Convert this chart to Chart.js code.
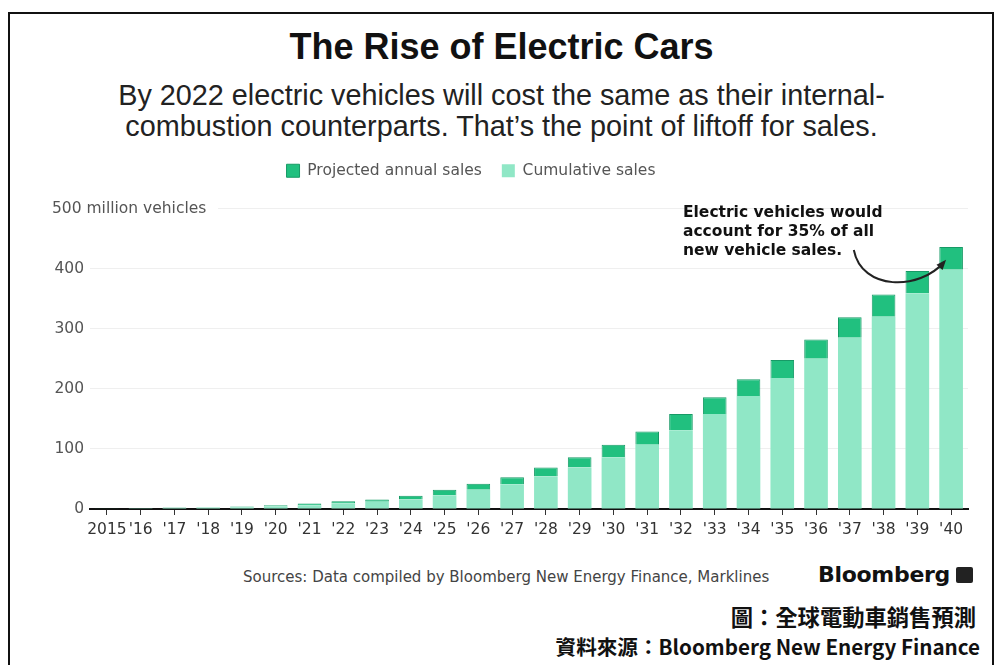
<!DOCTYPE html>
<html>
<head>
<meta charset="utf-8">
<script src="https://cdn.jsdelivr.net/npm/chart.js@4.4.1/dist/chart.umd.min.js"></script>
<style>
  body { margin: 0; background: #fff; width: 1003px; height: 665px; overflow: hidden; position: relative; font-family: "Liberation Sans", Arial, sans-serif; }
  .frame { position: absolute; left: 8px; top: 12px; width: 986px; height: 700px; border: 2px solid #111; box-sizing: border-box; }
  #title { position: absolute; top: 26px; left: 0; width: 1003px; text-align: center; font-weight: bold; font-size: 36px; letter-spacing: 0px; color: #111; }
  #subtitle { position: absolute; top: 80px; left: 0; width: 1003px; text-align: center; font-size: 28.8px; line-height: 31px; color: #222; }
  #chartBox { position: absolute; left: 0; top: 139px; width: 1003px; height: 411px; }
  #sources { position: absolute; left: 243px; top: 568px; font-family: "DejaVu Sans"; font-size: 15px; color: #444; }
  #brand { position: absolute; left: 818px; top: 562px; font-family: "DejaVu Sans"; font-weight: bold; font-size: 22px; letter-spacing: -0.3px; color: #111; }
  #brand i { display: inline-block; width: 17px; height: 16px; background: #222; border-radius: 2px; margin-left: 6px; vertical-align: -1px; }
  .cjk { position: absolute; font-family: "Noto Sans CJK TC"; font-weight: bold; color: #111; white-space: nowrap; }
  #cap1 { top: 600px; right: 27px; font-size: 22.3px; }
  #cap2 { top: 631px; right: 23px; font-size: 20.6px; }
</style>
</head>
<body>
<div class="frame"></div>
<div id="title">The Rise of Electric Cars</div>
<div id="subtitle">By 2022 electric vehicles will cost the same as their internal-<br>combustion counterparts. That’s the point of liftoff for sales.</div>
<div id="chartBox"><canvas id="myChart"></canvas></div>
<div id="sources">Sources: Data compiled by Bloomberg New Energy Finance, Marklines</div>
<div id="brand">Bloomberg<i></i></div>
<div id="cap1" class="cjk">圖：全球電動車銷售預測</div>
<div id="cap2" class="cjk">資料來源：Bloomberg New Energy Finance</div>
<script>
var years = ["2015", "'16", "'17", "'18", "'19", "'20", "'21", "'22", "'23", "'24", "'25", "'26", "'27",
    "'28", "'29", "'30", "'31", "'32", "'33", "'34", "'35", "'36", "'37", "'38", "'39", "'40"];
// million vehicles
var cumulative = [0.8, 1.2, 1.7, 2.3, 3.1, 4.3, 6.3, 9.3, 12, 16, 23, 32, 41,
    54, 69, 86, 107, 131, 158, 188, 218, 250, 285, 320, 359, 398];
var annual = [0.4, 0.5, 0.6, 0.8, 1.2, 2.0, 3.0, 3.5, 4, 6, 9, 10, 12,
    15, 17, 21, 22, 27, 28, 28, 30, 32, 34, 37, 37, 38];
var yTicks = [0, 100, 200, 300, 400, 500];
var noteLines = ["Electric vehicles would", "account for 35% of all", "new vehicle sales."];

Chart.defaults.font.family = "DejaVu Sans";

// more room under the legend, and nudge it a bit left
var legendGap = {
    id: "legendGap",
    beforeInit: function (chart) {
        var fit = chart.legend.fit;
        chart.legend.fit = function () {
            fit.bind(chart.legend)();
            this.height += 20;
        };
    },
    afterLayout: function (chart) {
        chart.legend.left -= 13;
        chart.legend.right -= 13;
    },
};

var notePlugin = {
    id: "note",
    afterDraw: function (chart) {
        var ctx = chart.ctx;
        var x = chart.scales.x;
        var y = chart.scales.y;
        var top = y.getPixelForValue(500);
        ctx.save();
        // axis title in place of the 500 tick
        ctx.fillStyle = "#fff";
        ctx.fillRect(40, top - 10, 178, 20);
        ctx.fillStyle = "#555";
        ctx.font = "15.5px 'DejaVu Sans'";
        ctx.textAlign = "left";
        ctx.textBaseline = "middle";
        ctx.fillText("500 million vehicles", 52, top);

        // annotation
        ctx.fillStyle = "#111";
        ctx.font = "bold 15.5px 'DejaVu Sans'";
        var nx = x.getPixelForValue(17) + 2;
        for (var i = 0; i < noteLines.length; i++) {
            ctx.fillText(noteLines[i], nx, top + 4 + i * 19);
        }

        // curved arrow
        var sx = x.getPixelForValue(22) + 4, sy = y.getPixelForValue(431);
        var ex = x.getPixelForValue(25) - 7, ey = y.getPixelForValue(411);
        var c1x = x.getPixelForValue(22) + 12, c1y = y.getPixelForValue(363);
        var c2x = x.getPixelForValue(24) + 2, c2y = y.getPixelForValue(363);
        ctx.strokeStyle = "#222";
        ctx.lineWidth = 2;
        ctx.beginPath();
        ctx.moveTo(sx, sy);
        ctx.bezierCurveTo(c1x, c1y, c2x, c2y, ex, ey);
        ctx.stroke();
        var a = Math.atan2(ey - c2y, ex - c2x);
        ctx.fillStyle = "#222";
        ctx.beginPath();
        ctx.moveTo(ex + 3 * Math.cos(a), ey + 3 * Math.sin(a));
        ctx.lineTo(ex - 7 * Math.cos(a) + 4 * Math.sin(a), ey - 7 * Math.sin(a) - 4 * Math.cos(a));
        ctx.lineTo(ex - 7 * Math.cos(a) - 4 * Math.sin(a), ey - 7 * Math.sin(a) + 4 * Math.cos(a));
        ctx.closePath();
        ctx.fill();
        ctx.restore();
    },
};

var myChart = document.getElementById("myChart").getContext("2d");
var chart = new Chart(myChart, {
    type: "bar",
    data: {
        labels: years,
        datasets: [
            {
                label: "Cumulative sales",
                backgroundColor: "#90e7c6",
                data: cumulative,
                stack: "ev",
            },
            {
                label: "Projected annual sales",
                backgroundColor: "#21c07f",
                borderColor: "#179a66",
                borderWidth: 1,
                data: annual,
                stack: "ev",
            },
        ],
    },
    plugins: [legendGap, notePlugin],
    options: {
        responsive: true,
        maintainAspectRatio: false,
        animation: false,
        layout: { padding: { left: 0, right: 35, top: 4, bottom: 11 } },
        datasets: { bar: { barPercentage: 0.7, categoryPercentage: 1.0 } },
        plugins: {
            legend: {
                reverse: true,
                labels: {
                    boxWidth: 13,
                    boxHeight: 13,
                    padding: 20,
                    color: "#555",
                    font: { size: 15.5 },
                },
            },
            tooltip: { enabled: false },
        },
        scales: {
            x: {
                stacked: true,
                grid: { display: true, drawOnChartArea: false, drawTicks: true, tickLength: 6, color: "#333", offset: false },
                border: { display: true, color: "#111", width: 2 },
                ticks: { color: "#333", font: { size: 15.5 }, maxRotation: 0, autoSkip: false, padding: 6 },
                afterFit: function (s) { s.height = 30; },
            },
            y: {
                stacked: true,
                min: 0,
                max: 500,
                afterBuildTicks: function (s) { s.ticks = yTicks.map(function (v) { return { value: v }; }); },
                grid: { color: "#efefef", drawTicks: false },
                border: { display: false },
                ticks: {
                    color: "#555",
                    font: { size: 15.5 },
                    padding: 6,
                    callback: function (v) { return v === 500 ? "" : v; },
                },
                afterFit: function (s) { s.width = 90; },
            },
        },
    },
});
</script>
</body>
</html>
